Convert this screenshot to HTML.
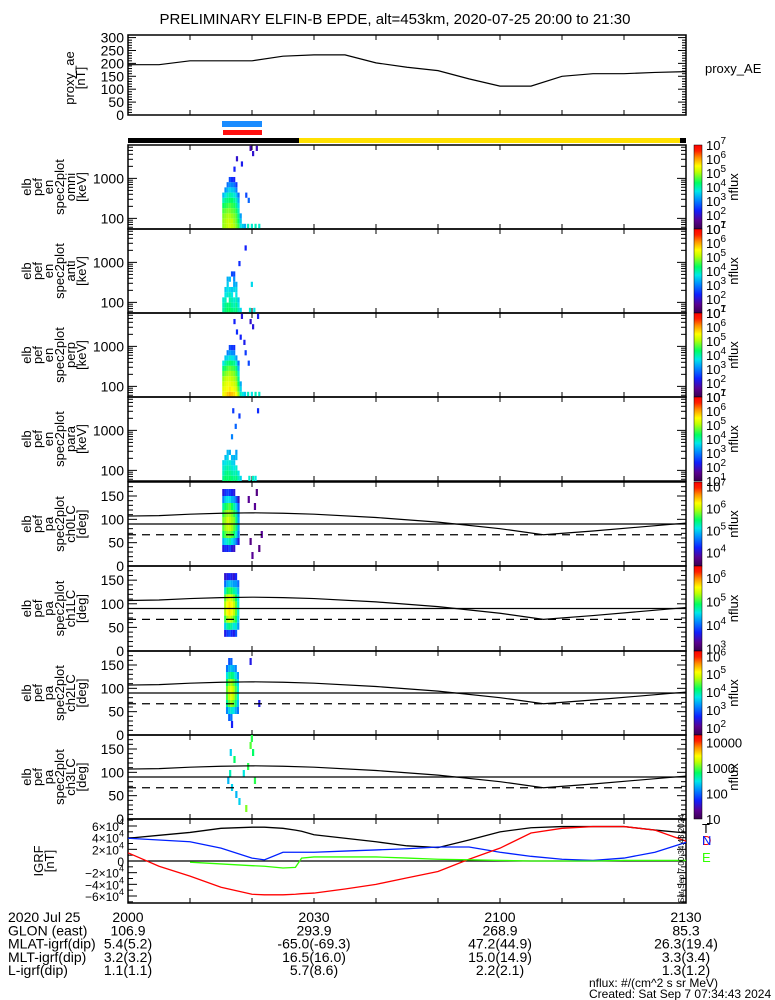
<!DOCTYPE html>
<html><head><meta charset="utf-8"><style>
html,body{margin:0;padding:0;background:#fff}
svg{display:block;font-family:"Liberation Sans",sans-serif}
</style></head><body>
<svg id="chart" width="775" height="1000" viewBox="0 0 775 1000" xmlns="http://www.w3.org/2000/svg">
<defs>
<linearGradient id="cbar" x1="0" y1="1" x2="0" y2="0">
<stop offset="0" stop-color="#3a0050"/><stop offset="0.1" stop-color="#5a0090"/><stop offset="0.22" stop-color="#1020ff"/><stop offset="0.35" stop-color="#0090ff"/><stop offset="0.45" stop-color="#00e8e8"/><stop offset="0.55" stop-color="#00ff60"/><stop offset="0.68" stop-color="#c0ff00"/><stop offset="0.75" stop-color="#ffff00"/><stop offset="0.85" stop-color="#ff9000"/><stop offset="0.93" stop-color="#ff2000"/><stop offset="1" stop-color="#ff0000"/>
</linearGradient>
</defs>
<rect x="0" y="0" width="775" height="1000" fill="#fff"/>
<text x="395" y="24" font-size="15" text-anchor="middle">PRELIMINARY ELFIN-B EPDE, alt=453km, 2020-07-25 20:00 to 21:30</text>
<g id="g"></g>
</svg>
<script>
// ---------- data ----------
const aeTimes = [0,5,10,15,20,25,30,35,40,45,50,55,60,65,70,75,80,85,90];
const aeValues = [195,195,210,210,210,228,233,233,202,185,172,140,112,112,150,160,160,165,168];
const aeTicks = [0,50,100,150,200,250,300];

const energyBins = [63,85,115,155,209,282,380,513,692,933,1259,1698,2290,3090,4168,5623];
const energyTickLabels = [100,1000];

const omniTimes = [15.2,15.55,15.9,16.25,16.6,16.95,17.3,17.65,18.0,18.35,18.7];
const omniFlux = [
 [4.9,4.9,4.8,4.6,4.3,3.9,3.4],
 [5.0,5.0,4.9,4.7,4.4,4.1,3.7,3.1],
 [5.1,5.1,5.0,4.8,4.5,4.2,3.9,3.4,2.9],
 [5.2,5.1,5.0,4.8,4.6,4.3,4.0,3.6,3.1,2.6],
 [5.1,5.1,4.9,4.7,4.5,4.3,3.9,3.5,3.0,2.4],
 [5.0,4.9,4.8,4.6,4.4,4.1,3.8,3.4,2.9,2.3],
 [4.8,4.7,4.6,4.4,4.1,3.9,3.5,3.0,2.5],
 [4.5,4.3,4.1,3.9,3.6,3.3,2.9],
 [3.7,3.5,3.2],
 [3.5],
 [3.3]];
const omniSparseT = [17.0,17.4,18.2,19.6,20.0,20.6,18.9,19.3,19.2,19.8,20.4,21.0];
const omniSparseBin = [11,13,12,15,14,15,6,5,0,0,0,0];
const omniSparseVal = [2.3,2.0,2.2,1.8,2.0,1.9,2.6,2.8,3.9,3.8,3.9,3.8];

const antiTimes = [15.2,15.55,15.9,16.25,16.6,16.95,17.3,17.65,18.0];
const antiFlux = [
 [4.0,3.9,3.8],
 [4.2,4.1,3.9,3.7,3.5],
 [4.3,4.2,null,3.8,3.7,3.5,3.3],
 [4.3,4.2,4.0,3.9,3.6,null,3.4],
 [4.2,4.0,3.9,3.7,3.5],
 [4.1,3.9,3.8,null,3.6,3.3,3.1,2.6],
 [4.2,4.1,3.9,3.7,3.6,3.3],
 [3.9,3.7,3.5],
 [3.6]];
const antiSparseT = [19.5,20.2,19.8,17.8,16.6,18.8];
const antiSparseBin = [0,0,5,9,7,12];
const antiSparseVal = [3.8,3.7,3.6,2.4,2.6,2.3];

const perpTimes = [15.2,15.55,15.9,16.25,16.6,16.95,17.3,17.65,18.0,18.35,18.7];
const perpFlux = [
 [5.4,5.3,5.1,4.9,4.6,4.2,3.7],
 [5.6,5.4,5.3,5.1,4.8,4.4,4.0,3.5],
 [5.8,5.5,5.4,5.2,4.9,4.6,4.2,3.6,3.0],
 [5.9,5.6,5.4,5.2,5.0,4.7,4.3,3.8,3.2,2.6],
 [5.8,5.5,5.3,5.1,4.9,4.6,4.2,3.7,3.1,2.5],
 [5.7,5.4,5.2,5.0,4.8,4.5,4.1,3.6,3.0,2.4],
 [5.5,5.2,5.0,4.8,4.5,4.2,3.8,3.2],
 [4.9,4.6,4.3,4.1,3.8,3.4,2.9],
 [3.9,3.6,3.3],
 [3.7],
 [3.5]];
const perpSparseT = [17.4,18.0,18.6,19.6,20.0,20.8,18.8,19.3,19.2,19.8,20.4,21.0,17.0,18.2];
const perpSparseBin = [12,11,10,14,13,15,8,6,0,0,0,0,14,15];
const perpSparseVal = [2.4,2.3,2.2,2.0,2.1,2.2,2.5,2.6,3.9,3.7,3.9,3.8,2.3,2.1];

const paraTimes = [15.2,15.55,15.9,16.25,16.6,16.95,17.3,17.65,18.0];
const paraFlux = [
 [4.1,3.9,3.8,3.6],
 [4.3,4.1,3.9,3.7,3.4],
 [4.2,4.2,4.0,3.8,3.6,3.4],
 [4.3,4.1,3.9,3.8,null,3.3],
 [4.2,4.0,3.8,3.6,3.4],
 [4.1,3.9,3.7,3.5,3.3],
 [4.2,4.0,3.8,null,3.4,3.2],
 [3.9,3.7],
 [3.6]];
const paraSparseT = [19.4,20.0,20.4,16.6,17.2,16.8,20.8,17.8];
const paraSparseBin = [0,0,0,8,10,13,13,12];
const paraSparseVal = [3.8,3.9,3.7,3.0,2.8,2.5,2.4,2.5];

const paBins = [7.5,22.5,37.5,52.5,67.5,82.5,97.5,112.5,127.5,142.5,157.5,172.5];
const paTickLabels = [0,50,100,150];

const ch0Times = [15.2,15.55,15.9,16.25,16.6,16.95,17.3,17.65];
const ch0Flux = [
 [null,null,4.1,4.9,5.5,5.7,5.8,5.6,5.3,4.7,4.1,null],
 [null,null,4.3,5.1,5.7,5.9,5.9,5.8,5.5,5.0,4.3,null],
 [null,null,4.2,5.2,5.8,6.0,6.1,5.9,5.6,5.1,4.4,null],
 [null,null,4.4,5.3,5.8,6.0,6.0,5.9,5.7,5.1,4.3,null],
 [null,null,4.1,5.1,5.7,5.9,5.9,5.8,5.5,4.9,4.2,null],
 [null,null,4.0,4.9,5.5,5.7,5.8,5.6,5.3,4.8,4.1,null],
 [null,null,null,4.6,5.2,5.4,5.4,5.3,5.0,4.5,null,null],
 [null,null,null,4.1,4.6,4.8,4.8,4.7,4.5,4.0,null,null]];
const ch0SparseT = [19.3,19.6,20.3,21.0,21.4,20.6,19.9];
const ch0SparseBin = [9,3,8,2,4,10,1];
const ch0SparseVal = [3.8,3.7,3.8,3.7,3.8,3.7,3.8];

const ch1Times = [15.5,15.85,16.2,16.55,16.9,17.25,17.6];
const ch1Flux = [
 [null,null,3.6,4.4,5.0,5.3,5.3,5.1,4.6,4.0,3.5,null],
 [null,null,3.8,4.7,5.3,5.6,5.6,5.4,4.9,4.3,3.6,null],
 [null,null,3.9,4.8,5.4,5.7,5.7,5.5,5.0,4.4,3.7,null],
 [null,null,3.7,4.7,5.3,5.6,5.6,5.4,4.9,4.3,3.6,null],
 [null,null,3.6,4.5,5.1,5.4,5.4,5.2,4.7,4.2,3.5,null],
 [null,null,3.9,4.6,4.9,5.1,5.1,4.9,4.6,4.2,3.7,null],
 [null,null,null,4.2,4.4,4.6,4.6,4.5,4.3,4.0,null,null]];

const ch2Times = [15.8,16.15,16.5,16.85,17.2,17.55];
const ch2Flux = [
 [null,null,null,3.2,4.0,4.4,4.5,4.2,3.7,3.1,null,null],
 [null,null,3.0,3.6,4.5,4.8,4.9,4.6,4.0,3.4,2.9,null],
 [null,null,3.1,3.8,4.7,5.0,5.0,4.7,4.1,3.5,3.0,null],
 [null,null,null,3.7,4.5,4.8,4.8,4.5,4.0,3.4,null,null],
 [null,null,null,3.4,4.1,4.4,4.4,4.1,3.7,3.2,null,null],
 [null,null,null,3.1,3.5,3.8,3.8,3.6,3.3,null,null,null]];
const ch2SparseT = [19.6,21.0,16.6];
const ch2SparseBin = [10,4,1];
const ch2SparseVal = [2.5,2.5,2.6];

const ch3SparseT = [16.0,16.3,16.6,17.0,17.3,18.5,19.2,19.6,20.0,20.3,17.8,18.9,16.4,19.8];
const ch3SparseBin = [5,6,4,8,3,6,7,10,9,5,2,1,9,11];
const ch3SparseVal = [2.3,2.6,2.4,2.8,2.3,2.5,2.9,3.0,2.8,2.9,2.4,3.1,2.4,2.9];

const lcTimes = [0,5,10,15,20,25,30,40,50,60,67,75,90];
const lcUpper = [107,108,111,113,114,113,111,104,94,80,67,75,92];
const lcFlat = 90;
const lcDashed = 67;

const igrfTimes = [0,5,10,15,20,22,25,27,28,30,35,40,45,50,55,60,65,70,75,80,85,90];
const igrfT = [3.9,4.4,4.9,5.6,5.8,5.8,5.6,5.3,5.1,4.5,3.9,3.3,2.6,2.3,3.6,5.0,5.7,5.9,5.9,5.9,5.3,4.8];
const igrfN = [3.9,3.6,3.3,2.2,0.5,0.2,1.5,1.5,1.5,1.5,1.7,1.9,2.1,2.4,2.4,1.5,0.8,0.3,0.1,0.5,1.5,3.2];
const igrfD = [1.4,-0.9,-2.6,-4.5,-5.7,-5.8,-5.8,-5.7,-5.6,-5.5,-4.8,-4.0,-2.9,-1.8,0.3,2.2,4.8,5.6,5.9,5.9,5.3,3.4];
const igrfE = [null,null,-0.2,-0.5,-0.8,-0.9,-1.2,-1.1,0.5,0.7,0.7,0.7,0.5,0.3,0.2,0.1,0.0,0.0,0.0,0.1,0.1,0.1];
const igrfTicks = [-6,-4,-2,0,2,4,6];

const timeTickLabels = ["2000","2030","2100","2130"];
const footerRows = [
 ["2020 Jul 25","2000","2030","2100","2130"],
 ["GLON (east)","106.9","293.9","268.9","85.3"],
 ["MLAT-igrf(dip)","5.4(5.2)","-65.0(-69.3)","47.2(44.9)","26.3(19.4)"],
 ["MLT-igrf(dip)","3.2(3.2)","16.5(16.0)","15.0(14.9)","3.3(3.4)"],
 ["L-igrf(dip)","1.1(1.1)","5.7(8.6)","2.2(2.1)","1.3(1.2)"]];

// ---------- helpers ----------
const NS="http://www.w3.org/2000/svg";
const G=document.getElementById('g');
function mk(tag,attrs,parent,txt){const e=document.createElementNS(NS,tag);for(const k in attrs)e.setAttribute(k,attrs[k]);if(txt!==undefined)e.textContent=txt;(parent||G).appendChild(e);return e;}
const X0=128,X1=686;
function xT(t){return X0+t*(X1-X0)/90;}
const stops=[[0,[58,0,80]],[0.1,[90,0,144]],[0.22,[16,32,255]],[0.35,[0,144,255]],[0.45,[0,232,232]],[0.55,[0,255,96]],[0.68,[192,255,0]],[0.75,[255,255,0]],[0.85,[255,144,0]],[0.93,[255,32,0]],[1,[255,0,0]]];
function col(f){f=Math.max(0,Math.min(1,f));for(let i=1;i<stops.length;i++){if(f<=stops[i][0]){const a=stops[i-1],b=stops[i];const u=(f-a[0])/(b[0]-a[0]);const c=a[1].map((v,j)=>Math.round(v+(b[1][j]-v)*u));return `rgb(${c[0]},${c[1]},${c[2]})`;}}return 'rgb(255,0,0)';}

function frame(top,bot,name){
  const g=mk('g',{});
  
  
  const r=mk('rect',{x:X0,y:top,width:X1-X0,height:bot-top,fill:'none',stroke:'#000','stroke-width':1.5},g);
  
  
  for(let t=10;t<90;t+=10){const x=xT(t);
    mk('line',{x1:x,y1:bot,x2:x,y2:bot-5,stroke:'#000'},g);
    mk('line',{x1:x,y1:top,x2:x,y2:top+5,stroke:'#000'},g);}
  return g;
}
function yLabel(lines,cx,cy,name,x0){
  const g=mk('g',{});
  
  
  lines.forEach((s,i)=>{const x=x0+i*11;mk('text',{x:x,y:cy,'font-size':13,'text-anchor':'middle',transform:`rotate(-90 ${x} ${cy})`},g,s);});
}
function colorbar(top,bot,mn,mx,labels,name,plain){
  const g=mk('g',{});
  
  
  mk('rect',{x:694,y:top,width:8,height:bot-top,fill:'url(#cbar)',stroke:'#000','stroke-width':0.5},g);
  labels.forEach(v=>{const y=bot-(v-mn)/(mx-mn)*(bot-top)+5;
    const t=mk('text',{x:706,y:y,'font-size':13},g);
    if(plain){t.textContent=String(Math.round(Math.pow(10,v)));}
    else{mk('tspan',{},t,'10');mk('tspan',{dy:-6,'font-size':10},t,String(v));}
  });
  const cy=(top+bot)/2;
  mk('text',{x:738,y:cy,'font-size':13,'text-anchor':'middle',transform:`rotate(-90 738 ${cy})`},g,'nflux');
}

// ---------- proxy AE panel ----------
{
 const top=35,bot=115,h=bot-top;
 const g=frame(top,bot,'proxy-ae-panel');
 const yA=v=>bot-v/310*h;
 for(let v=0;v<=300;v+=10){const y=yA(v);const L=v%50===0?8:4;
   mk('line',{x1:X0,y1:y,x2:X0+L,y2:y,stroke:'#000'},g);mk('line',{x1:X1,y1:y,x2:X1-L,y2:y,stroke:'#000'},g);}
 aeTicks.forEach(v=>{const t=mk('text',{x:124,y:yA(v)+5,'font-size':14,'text-anchor':'end'},g,String(v));
   });
 const pts=aeTimes.map((t,i)=>xT(t)+','+yA(aeValues[i])).join(' ');
 const p=mk('polyline',{points:pts,fill:'none',stroke:'#000','stroke-width':1.2},g);
 
 
 yLabel(['proxy_ae','[nT]'],0,78,'proxy-ae-axis-title',74);
 mk('text',{x:705,y:73,'font-size':13},g,'proxy_AE');
}
// status bars
mk('rect',{x:222,y:121,width:40,height:6,fill:'#1a8cff',});
mk('rect',{x:223,y:130,width:39,height:5,fill:'#ff1010',});
mk('rect',{x:128,y:138,width:171,height:5,fill:'#000',});
mk('rect',{x:299,y:138,width:381,height:5,fill:'#ffe000',});
mk('rect',{x:680,y:138,width:6,height:5,fill:'#000',});

// ---------- energy spectrogram panels ----------
const LEMIN=Math.log10(energyBins[0])-0.065;
function energyPanel(top,bot,times,flux,sT,sB,sV,name,sub){
 const g=frame(top,bot,name);
 const yE=le=>bot-(le-LEMIN)*40;
 const cell=(t,b,v)=>{const le=Math.log10(energyBins[b]);
   const r=mk('rect',{x:xT(t),y:yE(le+0.065),width:2.2,height:5.2,fill:col((v-1)/6)},g);
   
   };
 times.forEach((t,i)=>flux[i].forEach((v,b)=>{if(v!==null)cell(t,b,v);}));
 sT.forEach((t,i)=>cell(t,sB[i],sV[i]));
 for(let d=1;d<=4;d++)for(let m=1;m<10;m++){const le=d+Math.log10(m);const y=yE(le);if(y<top||y>bot)continue;const L=m===1?9:5;
   mk('line',{x1:X0,y1:y,x2:X0+L,y2:y,stroke:'#000'},g);mk('line',{x1:X1,y1:y,x2:X1-L,y2:y,stroke:'#000'},g);}
 energyTickLabels.forEach(v=>mk('text',{x:124,y:yE(Math.log10(v))+5,'font-size':14,'text-anchor':'end'},g,String(v)));
 yLabel(['elb','pef','en','spec2plot',sub,'[keV]'],0,(top+bot)/2,name+'-axis-title',31);
 colorbar(top,bot,1,7,[1,2,3,4,5,6,7],name+'-colorbar');
}
energyPanel(145,229,omniTimes,omniFlux,omniSparseT,omniSparseBin,omniSparseVal,'omni-spectrogram','omni');
energyPanel(229,313,antiTimes,antiFlux,antiSparseT,antiSparseBin,antiSparseVal,'anti-spectrogram','anti');
energyPanel(313,397,perpTimes,perpFlux,perpSparseT,perpSparseBin,perpSparseVal,'perp-spectrogram','perp');
energyPanel(397,481,paraTimes,paraFlux,paraSparseT,paraSparseBin,paraSparseVal,'para-spectrogram','para');

// ---------- pitch angle panels ----------
function paPanel(top,bot,times,flux,sT,sB,sV,mn,mx,cbLabels,plain,name,sub){
 const g=frame(top,bot,name);
 const h=bot-top;const yP=p=>bot-p/180*h;
 const cell=(t,b,v)=>{const r=mk('rect',{x:xT(t),y:yP(paBins[b]+7.5),width:2.2,height:h/12,fill:col((v-mn)/(mx-mn))},g);
   
   };
 times.forEach((t,i)=>flux[i].forEach((v,b)=>{if(v!==null)cell(t,b,v);}));
 sT.forEach((t,i)=>cell(t,sB[i],sV[i]));
 const up=mk('polyline',{points:lcTimes.map((t,i)=>xT(t)+','+yP(lcUpper[i])).join(' '),fill:'none',stroke:'#000','stroke-width':1.2},g);
 
 
 const fl=mk('line',{x1:X0,y1:yP(lcFlat),x2:X1,y2:yP(lcFlat),stroke:'#000','stroke-width':1.2},g);
 
 
 const ds=mk('line',{x1:X0,y1:yP(lcDashed),x2:X1,y2:yP(lcDashed),stroke:'#000','stroke-width':1.2,'stroke-dasharray':'8,6'},g);
 
 
 for(let p=0;p<=180;p+=10){const y=yP(p);const L=p%50===0?9:5;
   mk('line',{x1:X0,y1:y,x2:X0+L,y2:y,stroke:'#000'},g);mk('line',{x1:X1,y1:y,x2:X1-L,y2:y,stroke:'#000'},g);}
 paTickLabels.forEach(v=>mk('text',{x:124,y:yP(v)+5,'font-size':14,'text-anchor':'end'},g,String(v)));
 yLabel(['elb','pef','pa','spec2plot',sub,'[deg]'],0,(top+bot)/2,name+'-axis-title',31);
 colorbar(top,bot,mn,mx,cbLabels,name+'-colorbar',plain);
}
paPanel(482,566,ch0Times,ch0Flux,ch0SparseT,ch0SparseBin,ch0SparseVal,3.4,7.2,[4,5,6,7],false,'ch0-pitch-angle','ch0LC');
paPanel(566,651,ch1Times,ch1Flux,[],[],[],2.9,6.5,[3,4,5,6],false,'ch1-pitch-angle','ch1LC');
paPanel(651,735,ch2Times,ch2Flux,ch2SparseT,ch2SparseBin,ch2SparseVal,1.6,6.3,[2,3,4,5,6],false,'ch2-pitch-angle','ch2LC');
paPanel(735,819,[],[],ch3SparseT,ch3SparseBin,ch3SparseVal,1,4.3,[1,2,3,4],true,'ch3-pitch-angle','ch3LC');

// ---------- IGRF panel ----------
{
 const top=819,bot=903,zero=861;
 const g=frame(top,bot,'igrf-panel');
 const yI=v=>zero-v*35/6;
 for(let v=-7;v<=7;v+=1){const y=yI(v);if(y<top||y>bot)continue;const L=v%2===0?9:5;
   mk('line',{x1:X0,y1:y,x2:X0+L,y2:y,stroke:'#000'},g);mk('line',{x1:X1,y1:y,x2:X1-L,y2:y,stroke:'#000'},g);}
 igrfTicks.forEach(v=>{const t=mk('text',{x:124,y:yI(v)+5,'font-size':12,'text-anchor':'end'},g);
   if(v===0){t.textContent='0';}else{mk('tspan',{},t,(v<0?'\u2212':'')+Math.abs(v)+'\u00d710');mk('tspan',{dy:-6,'font-size':9},t,'4');}});
 mk('line',{x1:X0,y1:zero,x2:X1,y2:zero,stroke:'#000','stroke-width':1.2},g);
 const series=[[igrfT,'#000','igrf-total-line'],[igrfN,'#0020ff','igrf-north-line'],[igrfD,'#ff0000','igrf-down-line'],[igrfE,'#30ff00','igrf-east-line']];
 series.forEach(([arr,c,nm])=>{const pts=[];arr.forEach((v,i)=>{if(v!==null)pts.push(xT(igrfTimes[i])+','+yI(v));});
   const p=mk('polyline',{points:pts.join(' '),fill:'none',stroke:c,'stroke-width':1.3},g);
   
   });
 yLabel(['IGRF','[nT]'],0,861,'igrf-axis-title',43);
 mk('text',{x:702,y:833,'font-size':13,fill:'#000'},g,'T');
 mk('text',{x:702,y:845,'font-size':13,fill:'#ff0000'},g,'D');
 mk('text',{x:702,y:845,'font-size':13,fill:'#0020ff'},g,'N');
 mk('text',{x:702,y:862,'font-size':13,fill:'#30ff00'},g,'E');
 mk('text',{x:684,y:903,'font-size':8,transform:'rotate(-90 684 903)'},g,'Sat Sep  7 00:34:43 2024');
}

// ---------- footer ----------
{
 const g=mk('g',{});
 
 
 const cx=[null,128,314,500,686];
 footerRows.forEach((row,r)=>{const y=922+r*13.3;
   mk('text',{x:8,y:y,'font-size':14},g,row[0]);
   for(let c=1;c<5;c++)mk('text',{x:cx[c],y:y,'font-size':14,'text-anchor':'middle'},g,row[c]);});
 mk('text',{x:589,y:987,'font-size':12},g,'nflux: #/(cm^2 s sr MeV)');
 mk('text',{x:589,y:998,'font-size':12},g,'Created: Sat Sep  7 07:34:43 2024');
}
</script>
</body></html>
